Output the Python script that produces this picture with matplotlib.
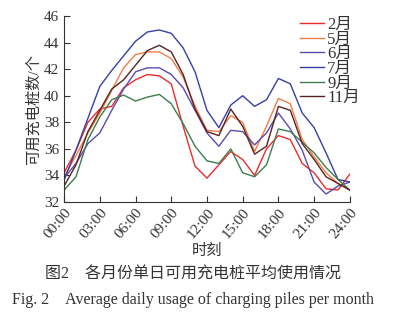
import matplotlib
matplotlib.use("Agg")
import matplotlib.pyplot as plt
import numpy as np

plt.rcParams['font.family'] = ['Liberation Serif', 'Noto Sans CJK SC']
plt.rcParams['axes.unicode_minus'] = False

hours = np.arange(0, 25)
tick_hours = np.arange(0, 25, 3)
tick_labels = ["00:00", "03:00", "06:00", "09:00", "12:00", "15:00", "18:00", "21:00", "24:00"]

months = ["2月", "5月", "6月", "7月", "9月", "11月"]
colors = ["#ee2b2b", "#f47b45", "#5d4ab0", "#3540a8", "#3d7d4e", "#5a2323"]

feb = [34.2, 35.9, 38.0, 39.0, 39.2, 40.6, 41.2, 41.6, 41.5, 40.9, 37.7, 34.7, 33.8,
       34.8, 35.8, 35.2, 34.0, 36.0, 37.0, 36.7, 34.9, 34.2, 33.0, 32.9, 34.1]
may = [33.9, 35.5, 37.2, 38.7, 40.4, 42.1, 43.1, 43.3, 43.3, 42.8, 41.4, 39.2, 37.4,
       37.3, 38.5, 38.0, 35.8, 37.7, 39.8, 39.4, 36.7, 35.4, 34.2, 33.4, 32.9]
jun = [33.8, 34.9, 36.4, 37.2, 38.9, 40.5, 41.8, 42.1, 42.1, 41.6, 40.6, 38.9, 37.2,
       36.2, 37.4, 37.3, 36.3, 37.2, 38.7, 37.5, 35.9, 33.5, 32.6, 33.2, 33.5]
jul = [33.65, 35.9, 38.3, 40.7, 41.9, 43.0, 44.1, 44.8, 44.95, 44.7, 43.6, 41.8, 38.9,
       37.6, 39.3, 40.0, 39.2, 39.7, 41.3, 40.9, 38.7, 37.6, 35.7, 33.7, 33.5]
sep = [32.9, 33.9, 36.7, 38.4, 39.7, 40.05, 39.6, 39.9, 40.1, 39.4, 37.9, 36.2, 35.1,
       34.9, 36.0, 34.2, 33.9, 34.8, 37.5, 37.3, 36.5, 35.7, 34.6, 33.7, 32.9]
nov = [33.2, 34.8, 37.3, 38.9, 40.5, 41.2, 42.3, 43.4, 43.8, 43.3, 41.6, 39.0, 37.3,
       37.0, 39.0, 37.7, 35.6, 36.2, 39.2, 38.9, 36.4, 35.2, 33.9, 33.4, 32.9]
series = [feb, may, jun, jul, sep, nov]

fig = plt.figure(figsize=(3.98, 3.24), dpi=100)
ax = fig.add_axes([0.161, 0.3765, 0.718, 0.574])

for name, vals, c in zip(months, series, colors):
    ax.plot(hours, vals, color=c, linewidth=1.0, label=name)

ax.set_xlim(0, 24)
ax.set_ylim(32, 46)
ax.set_yticks(np.arange(32, 47, 2))
ax.set_xticks(tick_hours)
ax.set_xticklabels(tick_labels, rotation=50, ha='right', va='top', rotation_mode='anchor')
ax.tick_params(direction='in', length=4, width=0.8, labelsize=11, colors='#333333')
ax.tick_params(axis='x', pad=3)
for side in ['top', 'right']:
    ax.spines[side].set_visible(False)
for side in ['left', 'bottom']:
    ax.spines[side].set_color('#333333')
    ax.spines[side].set_linewidth(0.8)

ax.set_ylabel("可用充电桩数/个", fontsize=11, color='#333333', labelpad=2)
ax.set_xlabel("时刻", fontsize=11, color='#333333', labelpad=2)

leg = ax.legend(loc='upper left', bbox_to_anchor=(0.825, 0.995), frameon=False, fontsize=12,
                handlelength=1.45, handletextpad=0.2, labelspacing=-0.08, borderaxespad=0,
                borderpad=0)
for t in leg.get_texts():
    t.set_color('#333333')

fig.text(0.485, 0.151, "图2　各月份单日可用充电桩平均使用情况", ha='center', va='center',
         fontsize=11.5, color='#333333')
fig.text(0.03, 0.074, "Fig. 2　Average daily usage of charging piles per month", ha='left',
         va='center', fontsize=11.5, color='#333333')

fig.savefig("out.png", dpi=100)
